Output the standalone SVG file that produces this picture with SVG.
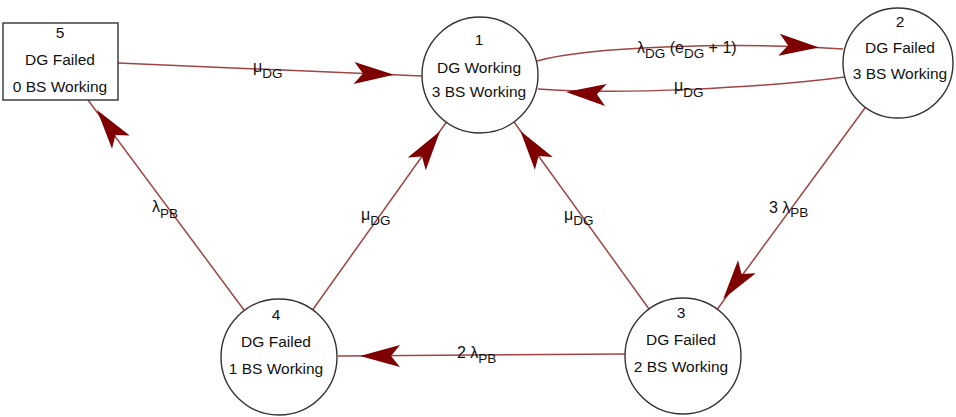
<svg xmlns="http://www.w3.org/2000/svg" xmlns:xlink="http://www.w3.org/1999/xlink" width="956" height="417" viewBox="0 0 956 417">
  <style>
    .node { fill: #ffffff; stroke: #333333; stroke-width: 1.4; }
    .ntext { font-family: "Liberation Sans", Arial, sans-serif; font-size: 15.5px; fill: #111111; text-anchor: middle; }
    .edge { fill: none; stroke: #a04444; stroke-width: 1.5; }
    .head { fill: #7f0000; }
    .lbl { font-family: "Liberation Sans", Arial, sans-serif; font-size: 16px; fill: #111111; }
    .sub { font-size: 13.5px; }
  </style>
  <defs>
    <!-- notched arrowhead, tip at the origin pointing along +x -->
    <path id="ah" d="M0,0 L-40,-11 L-31,0 L-40,11 Z"/>
  </defs>

  <rect width="956" height="417" fill="#ffffff"/>

  <g id="connectors">
    <!-- 5 -> 1 -->
    <path class="edge" d="M118,63 L422,76"/>
    <use class="head" xlink:href="#ah" href="#ah" transform="translate(394,74.8) rotate(2.45)"/>
    <text class="lbl" x="253" y="72">μ<tspan class="sub" dy="6">DG</tspan></text>

    <!-- 1 -> 2 -->
    <path class="edge" d="M537,61 C590,46 740,42 843,49"/>
    <use class="head" xlink:href="#ah" href="#ah" transform="translate(819,47.5) rotate(3.9)"/>
    <text class="lbl" x="637" y="53">λ<tspan class="sub" dy="5">DG</tspan><tspan dy="-5"> (e</tspan><tspan class="sub" dy="5">DG</tspan><tspan dy="-5"> + 1)</tspan></text>

    <!-- 2 -> 1 -->
    <path class="edge" d="M845,77 C760,88 620,95 538,89"/>
    <use class="head" xlink:href="#ah" href="#ah" transform="translate(566,92) rotate(184.2)"/>
    <text class="lbl" x="674" y="91">μ<tspan class="sub" dy="6">DG</tspan></text>

    <!-- 4 -> 5 -->
    <path class="edge" d="M244,310 L88,100"/>
    <use class="head" xlink:href="#ah" href="#ah" transform="translate(97,110) rotate(-126.6)"/>
    <text class="lbl" x="152" y="212">λ<tspan class="sub" dy="6">PB</tspan></text>

    <!-- 4 -> 1 -->
    <path class="edge" d="M312.7,309.8 L446.3,122.2"/>
    <use class="head" xlink:href="#ah" href="#ah" transform="translate(440,131.2) rotate(-54.5)"/>
    <text class="lbl" x="361" y="220">μ<tspan class="sub" dy="5">DG</tspan></text>

    <!-- 3 -> 1 -->
    <path class="edge" d="M649,309 L514,122"/>
    <use class="head" xlink:href="#ah" href="#ah" transform="translate(520.4,130.9) rotate(-125.8)"/>
    <text class="lbl" x="564" y="220">μ<tspan class="sub" dy="5">DG</tspan></text>

    <!-- 2 -> 3 -->
    <path class="edge" d="M865.5,107.3 L717.3,309.2"/>
    <use class="head" xlink:href="#ah" href="#ah" transform="translate(723.2,299) rotate(126.3)"/>
    <text class="lbl" x="769" y="213">3 λ<tspan class="sub" dy="4">PB</tspan></text>

    <!-- 3 -> 4 -->
    <path class="edge" d="M625,354 L338,356"/>
    <use class="head" xlink:href="#ah" href="#ah" transform="translate(360,356) rotate(180)"/>
    <text class="lbl" x="457" y="358">2 λ<tspan class="sub" dy="5">PB</tspan></text>
  </g>

  <g id="node5">
    <rect class="node" x="3" y="23" width="115" height="77"/>
    <text class="ntext" x="60" y="38">5</text>
    <text class="ntext" x="60" y="65">DG Failed</text>
    <text class="ntext" x="60" y="92">0 BS Working</text>
  </g>

  <g id="node1">
    <circle class="node" cx="480" cy="75" r="58"/>
    <text class="ntext" x="479" y="45">1</text>
    <text class="ntext" x="479" y="73">DG Working</text>
    <text class="ntext" x="479" y="97">3 BS Working</text>
  </g>

  <g id="node2">
    <circle class="node" cx="898" cy="63" r="55"/>
    <text class="ntext" x="900" y="27">2</text>
    <text class="ntext" x="900" y="53">DG Failed</text>
    <text class="ntext" x="900" y="79">3 BS Working</text>
  </g>

  <g id="node3">
    <circle class="node" cx="683" cy="356" r="58"/>
    <text class="ntext" x="681" y="318">3</text>
    <text class="ntext" x="681" y="345">DG Failed</text>
    <text class="ntext" x="681" y="372">2 BS Working</text>
  </g>

  <g id="node4">
    <circle class="node" cx="279" cy="357" r="58"/>
    <text class="ntext" x="276" y="320">4</text>
    <text class="ntext" x="276" y="347">DG Failed</text>
    <text class="ntext" x="276" y="374">1 BS Working</text>
  </g>
</svg>
